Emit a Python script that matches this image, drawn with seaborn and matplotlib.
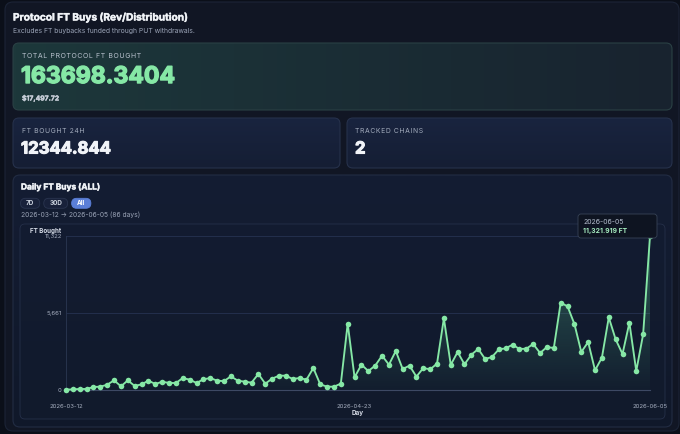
import numpy as np
import pandas as pd
import matplotlib
matplotlib.use("Agg")
import matplotlib.pyplot as plt
import matplotlib.dates as mdates
import matplotlib.patheffects as pe
from matplotlib.patches import FancyBboxPatch
from matplotlib.colors import to_rgba
import seaborn as sns

# ---- data ----
start_day = "2026-03-12"
end_day = "2026-06-05"
daily_ft = [
    20, 50, 75, 75, 220, 245, 390, 710, 270, 710,
    295, 415, 685, 440, 610, 515, 515, 880, 760, 515,
    785, 880, 685, 650, 1005, 685, 613, 539, 1176, 466,
    833, 1054, 1054, 809, 882, 760, 1617, 417, 245, 245,
    466, 4876, 931, 1862, 1397, 1789, 2524, 1862, 2867, 1544,
    1789, 980, 1617, 1519, 1936, 5268, 1850, 2793, 1887, 2597,
    3014, 2279, 2426, 2989, 3063, 3332, 3014, 3038, 3381, 2720,
    3161, 3087, 6419, 6150, 4851, 2793, 3528, 1446, 2377, 5341,
    3724, 2646, 4949, 1397, 4092, 11321.919,
]
total_ft = "163698.3404"
total_usd = "$17,497.72"
ft_24h = "12344.844"
tracked_chains = "2"
range_buttons = ["7D", "30D", "All"]
active_button = "All"

days = pd.date_range(start_day, end_day, freq="D")
df = pd.DataFrame({"Day": days, "FT Bought": daily_ft})

sns.set_style("dark")
plt.rcParams["font.family"] = ["Inter", "DejaVu Sans"]

GREEN = "#86e8a6"
WHITE = "#f1f4f8"
GRAY = "#9aa3b6"


def spaced(s):
    # small-caps labels in the reference are letter-spaced
    return "\u200a".join(s)


fig = plt.figure(figsize=(6.8, 4.34), dpi=100)
fig.patch.set_facecolor("#0b0f19")

bg = fig.add_axes([0, 0, 1, 1], zorder=0)
bg.set_facecolor("none")
bg.axis("off")


def card(ax, x0, y0, x1, y1, fc, ec, r=6, lw=0.8, colors=None, horizontal=True):
    p = FancyBboxPatch((x0, y0), x1 - x0, y1 - y0,
                       boxstyle=f"round,pad=0,rounding_size={r}",
                       fc=fc, ec="none", lw=0)
    ax.add_patch(p)
    if colors is not None:
        c0, c1 = np.array(to_rgba(colors[0])), np.array(to_rgba(colors[1]))
        t = np.linspace(0, 1, 200)[:, None]
        g = c0 * (1 - t) + c1 * t
        g = g[None, :, :] if horizontal else g[:, None, :]
        im = ax.imshow(g, extent=(x0, x1, y1, y0), aspect="auto", zorder=p.get_zorder())
        im.set_clip_path(p)
    ax.add_patch(FancyBboxPatch((x0, y0), x1 - x0, y1 - y0,
                                boxstyle=f"round,pad=0,rounding_size={r}",
                                fc="none", ec=ec, lw=lw))
    return p


heavy = lambda c, w=0.7: [pe.withStroke(linewidth=w, foreground=c)]

# page panel
card(bg, 5, 2, 679, 431, "#111624", "#1c2436", r=8, lw=0.8)

bg.text(13, 17, "Protocol FT Buys (Rev/Distribution)", fontsize=7.3, fontweight="bold",
        color=WHITE, va="center", path_effects=heavy(WHITE, 0.3))
bg.text(13, 31, "Excludes FT buybacks funded through PUT withdrawals.", fontsize=4.9,
        color=GRAY, va="center")

# total card
card(bg, 13, 43, 672, 110, "#1a2a33", "#2a4044", r=6,
     colors=("#1d383b", "#18232f"))
bg.text(22, 56, spaced("TOTAL PROTOCOL FT BOUGHT"), fontsize=5.0, color="#b7c0cc", va="center")
bg.text(21, 77, total_ft, fontsize=16.6, fontweight="bold", color=GREEN, va="center",
        path_effects=heavy(GREEN, 1.0))
bg.text(22, 98, total_usd, fontsize=4.9, fontweight="bold", color="#c9d0da", va="center",
        path_effects=heavy("#c9d0da", 0.25))

# stat cards
card(bg, 13, 118, 340, 168, "#17213a", "#26314b", r=6, colors=("#19243f", "#151e34"),
     horizontal=False)
bg.text(22, 131, spaced("FT BOUGHT 24H"), fontsize=4.9, color="#a3acbd", va="center")
bg.text(21, 149, ft_24h, fontsize=12.0, fontweight="bold", color=WHITE, va="center",
        path_effects=heavy(WHITE, 0.8))
card(bg, 347, 118, 672, 168, "#17213a", "#26314b", r=6, colors=("#19243f", "#151e34"),
     horizontal=False)
bg.text(355, 131, spaced("TRACKED CHAINS"), fontsize=4.9, color="#a3acbd", va="center")
bg.text(355, 149, tracked_chains, fontsize=12.0, fontweight="bold", color=WHITE, va="center",
        path_effects=heavy(WHITE, 0.8))

# chart card
card(bg, 13, 175, 672, 427, "#131b30", "#222c43", r=7, colors=("#141d33", "#10182a"),
     horizontal=False)
bg.text(21, 187, "Daily FT Buys (ALL)", fontsize=6.0, fontweight="bold", color=WHITE,
        va="center", path_effects=heavy(WHITE, 0.3))

renderer = fig.canvas.get_renderer()
bx = 20.5
for lbl in range_buttons:
    active = lbl == active_button
    t = bg.text(0, 203.3, lbl, fontsize=4.6, fontweight="bold",
                color="#ffffff" if active else "#c9d0dc", ha="center", va="center",
                zorder=5)
    w = t.get_window_extent(renderer).width + 11
    t.set_x(bx + w / 2)
    card(bg, bx, 198.3, bx + w, 208.3, "#5b7fd8" if active else "#18213a",
         "#5b7fd8" if active else "#2a3550", r=5, lw=0.6)
    bx += w + 4

bg.text(21, 215, f"{days[0]:%Y-%m-%d} \u2192 {days[-1]:%Y-%m-%d} ({len(days)} days)",
        fontsize=4.8, color=GRAY, va="center")

# inner chart box
inner = card(bg, 20, 224, 665, 419, "#121a2e", "#253049", r=5, lw=0.6,
             colors=("#131c31", "#111a2c"), horizontal=False)
bg.text(61, 231.5, "FT Bought", fontsize=4.5, fontweight="bold", color="#d3d9e4",
        ha="right", va="center")

bg.set_xlim(0, 680)
bg.set_ylim(434, 0)

# ---- the line chart ----
ax = fig.add_axes([66 / 680, 1 - 390 / 434, (650 - 66) / 680, (390 - 236) / 434], zorder=1)
ax.set_facecolor("none")

ymax = float(np.ceil(max(daily_ft)))
xnum = mdates.date2num(df["Day"])

poly = ax.fill_between(df["Day"], df["FT Bought"], 0, color="none", lw=0)
gc = np.array(to_rgba("#5fd69a"))
grad = np.tile(gc, (256, 1))
grad[:, 3] = np.linspace(0.02, 0.36, 256)
im = ax.imshow(grad[:, None, :], extent=(xnum[0], xnum[-1], 0, ymax), origin="lower",
               aspect="auto", zorder=1)
im.set_clip_path(poly.get_paths()[0], transform=ax.transData)

sns.lineplot(data=df, x="Day", y="FT Bought", ax=ax, color=GREEN, lw=1.35,
             marker="o", markersize=4.0, markeredgewidth=0, clip_on=False, zorder=3)
ax.scatter(df["Day"].iloc[-1], df["FT Bought"].iloc[-1], s=5, color="#3a4252",
           edgecolors="#6b7385", linewidths=0.4, zorder=4, clip_on=False)

ax.set_xlim(xnum[0], xnum[-1])
ax.set_ylim(0, ymax)

yt = [0, ymax / 2, ymax]
ax.set_yticks(yt)
ax.set_yticklabels([f"{v:,.0f}" for v in yt])
mid = (len(days) - 1) // 2
xt = [days[0], days[mid], days[-1]]
ax.set_xticks(xt)
ax.set_xticklabels([d.strftime("%Y-%m-%d") for d in xt])
ax.tick_params(axis="both", length=0, labelsize=4.3, colors="#a9b1c2")
ax.tick_params(axis="x", pad=10)
ax.tick_params(axis="y", pad=3)
ax.set_xlabel("Day", fontsize=4.6, fontweight="bold", color="#d3d9e4", labelpad=1)
ax.set_ylabel("")

ax.yaxis.grid(True, color="#263251", lw=0.6)
ax.xaxis.grid(False)
for s in ["top", "right"]:
    ax.spines[s].set_visible(False)
ax.spines["left"].set_color("#2b3752")
ax.spines["left"].set_linewidth(0.6)
ax.spines["bottom"].set_color("#3d4964")
ax.spines["bottom"].set_linewidth(0.8)
fig.canvas.draw()
for t in ax.get_xticklabels():
    t.set_clip_path(inner)

# ---- hover tooltip ----
top = fig.add_axes([0, 0, 1, 1], zorder=2)
top.set_facecolor("none")
top.axis("off")
card(top, 578, 214, 657, 238, "#0e1421", "#384357", r=3, lw=0.6)
top.text(583, 222, f"{days[-1]:%Y-%m-%d}", fontsize=5.0, color="#b3bccc", va="center")
top.text(583, 231, f"{daily_ft[-1]:,.3f} FT", fontsize=4.9, fontweight="bold",
         color="#a6ecbf", va="center")
top.set_xlim(0, 680)
top.set_ylim(434, 0)

fig.savefig("out.png", dpi=100, facecolor=fig.get_facecolor())
